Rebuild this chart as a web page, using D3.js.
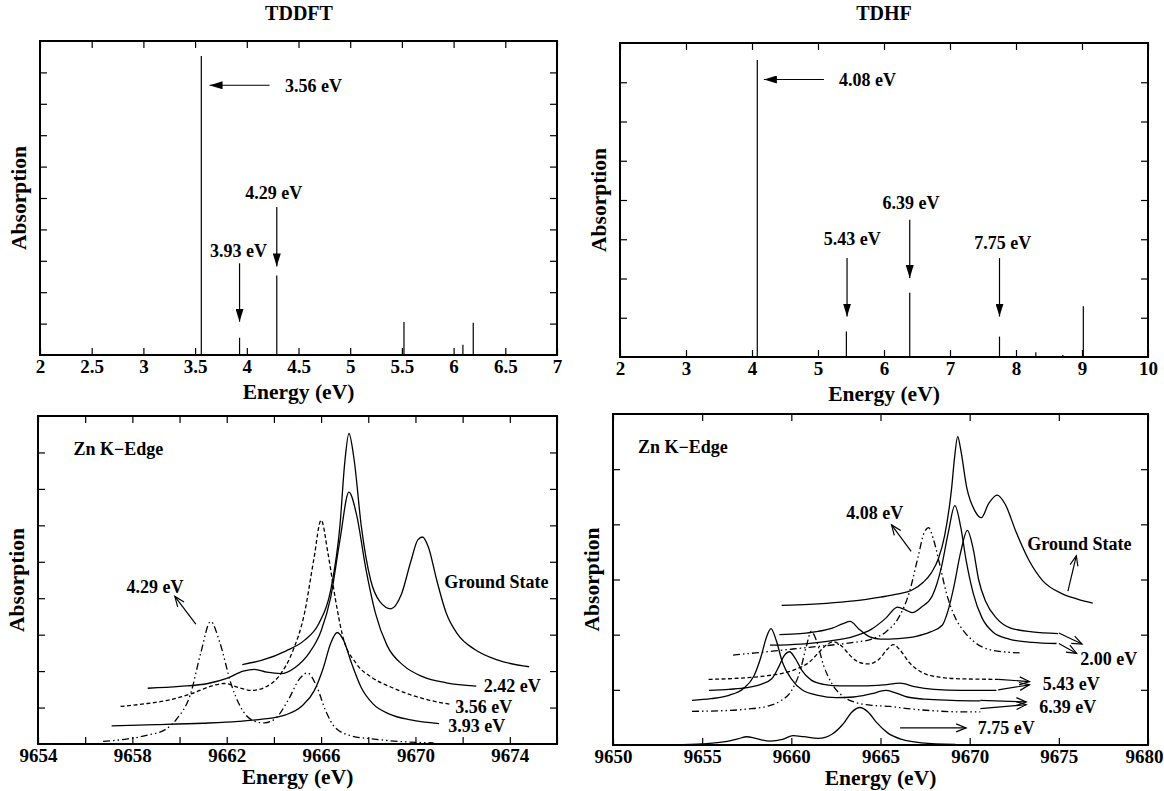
<!DOCTYPE html>
<html>
<head>
<meta charset="utf-8">
<script src="https://cdn.jsdelivr.net/npm/d3@7"></script>
<style>
  body { margin: 0; background: #fff; }
  text { font-family: "Liberation Serif", "Times New Roman", serif; font-weight: bold; fill: #000; }
</style>
</head>
<body>
<svg id="chart" width="1164" height="791"></svg>
<script>
// ---- stick spectra (top row) ----
var tddftEnergy = [3.56, 3.93, 4.29, 5.52, 6.09, 6.19];
var tddftIntensity = [9.52, 0.55, 2.53, 1.05, 0.33, 1.03];
var tdhfEnergy = [4.08, 5.43, 6.39, 7.75, 8.30, 8.71, 9.02];
var tdhfIntensity = [7.57, 0.65, 1.64, 0.52, 0.12, 0.05, 1.29];

var tddftTicks = [2, 2.5, 3, 3.5, 4, 4.5, 5, 5.5, 6, 6.5, 7];
var tdhfTicks = [2, 3, 4, 5, 6, 7, 8, 9, 10];
var kTicksLeft = [9654, 9656, 9658, 9660, 9662, 9664, 9666, 9668, 9670, 9672, 9674, 9676];
var kLabelsLeft = [9654, 9658, 9662, 9666, 9670, 9674];
var kTicksRight = [9650, 9655, 9660, 9665, 9670, 9675, 9680];

// ---- Zn K-edge spectra, TDDFT (bottom left) ----
var blGround = [[9662.66,2.18],[9663.5,2.3],[9664.5,2.55],[9665.3,2.85],[9665.9,3.3],[9666.4,4.2],[9666.8,6.0],[9667.0,7.7],[9667.18,8.52],[9667.4,7.8],[9667.7,6.0],[9668.1,4.5],[9668.5,3.9],[9668.96,3.71],[9669.4,4.1],[9669.8,5.0],[9670.1,5.6],[9670.3,5.68],[9670.55,5.4],[9670.9,4.5],[9671.3,3.6],[9671.8,3.0],[9672.5,2.6],[9673.5,2.3],[9674.82,2.12]];
var bl242 = [[9658.65,1.53],[9660.0,1.58],[9661.2,1.66],[9662.0,1.8],[9662.7,2.0],[9663.18,2.05],[9663.7,1.97],[9664.3,1.93],[9664.9,2.1],[9665.5,2.5],[9666.0,3.1],[9666.4,4.0],[9666.8,5.6],[9667.18,6.91],[9667.5,6.3],[9667.9,4.8],[9668.3,3.6],[9668.8,2.7],[9669.5,2.15],[9670.3,1.85],[9671.3,1.68],[9672.58,1.59]];
var bl356 = [[9657.5,1.03],[9658.5,1.1],[9659.5,1.2],[9660.5,1.38],[9661.3,1.58],[9661.9,1.66],[9662.5,1.55],[9663.05,1.47],[9663.6,1.55],[9664.2,1.85],[9664.8,2.55],[9665.3,3.6],[9665.7,5.1],[9666.0,6.14],[9666.3,5.2],[9666.6,4.0],[9666.9,3.0],[9667.5,2.2],[9668.17,1.82],[9669.0,1.55],[9669.8,1.35],[9670.6,1.2],[9671.48,1.09]];
var bl393 = [[9657.12,0.5],[9659.0,0.53],[9661.0,0.57],[9662.5,0.62],[9663.5,0.68],[9664.5,0.8],[9665.2,1.05],[9665.7,1.45],[9666.1,2.1],[9666.4,2.75],[9666.68,3.06],[9666.95,2.85],[9667.3,2.2],[9667.7,1.55],[9668.2,1.1],[9668.9,0.82],[9669.8,0.66],[9671.0,0.56]];
var bl429 = [[9656.76,0.07],[9657.8,0.14],[9658.7,0.25],[9659.35,0.38],[9659.9,0.7],[9660.46,1.36],[9660.9,2.5],[9661.32,3.36],[9661.7,2.8],[9662.19,1.64],[9662.6,1.0],[9663.13,0.64],[9663.6,0.58],[9664.1,0.72],[9664.6,1.2],[9665.1,1.8],[9665.42,1.95],[9665.8,1.6],[9666.2,0.9],[9666.6,0.45],[9667.3,0.22],[9668.17,0.14],[9669.3,0.07],[9670.77,0.03]];

// ---- Zn K-edge spectra, TDHF (bottom right) ----
var brGround = [[9659.46,2.53],[9661.0,2.55],[9662.8,2.59],[9664.0,2.63],[9665.0,2.68],[9666.0,2.74],[9666.72,2.8],[9667.4,2.95],[9667.85,3.12],[9668.25,3.38],[9668.6,3.8],[9668.99,4.66],[9669.15,5.2],[9669.33,5.59],[9669.5,5.35],[9669.84,4.66],[9670.3,4.24],[9670.65,4.12],[9671.07,4.38],[9671.54,4.53],[9672.0,4.36],[9672.58,3.88],[9673.34,3.34],[9674.09,2.98],[9675.2,2.74],[9676.0,2.65],[9676.9,2.57]];
var br200a = [[9658.8,1.81],[9660.5,1.83],[9662.0,1.88],[9663.5,1.97],[9664.5,2.1],[9665.3,2.3],[9665.95,2.5],[9666.4,2.45],[9666.77,2.4],[9667.3,2.5],[9667.9,2.7],[9668.4,3.2],[9668.8,3.85],[9669.17,4.34],[9669.5,3.95],[9669.8,3.35],[9670.2,2.75],[9670.7,2.3],[9671.3,2.05],[9672.2,1.92],[9673.5,1.86],[9674.87,1.84]];
var br200b = [[9659.33,2.0],[9660.5,2.02],[9661.5,2.06],[9662.3,2.12],[9662.9,2.2],[9663.29,2.24],[9663.8,2.1],[9664.4,1.96],[9665.0,1.92],[9666.0,1.93],[9667.0,1.97],[9667.8,2.05],[9668.46,2.17],[9668.8,2.45],[9669.1,2.85],[9669.5,3.5],[9669.87,3.89],[9670.2,3.55],[9670.5,3.0],[9670.9,2.6],[9671.5,2.3],[9672.3,2.12],[9673.5,2.05],[9674.96,2.02]];
var br408 = [[9656.73,1.63],[9658.0,1.67],[9659.5,1.72],[9661.0,1.77],[9662.5,1.82],[9663.5,1.86],[9664.5,1.92],[9665.3,2.05],[9666.0,2.3],[9666.6,2.75],[9667.1,3.4],[9667.45,3.85],[9667.7,3.94],[9667.95,3.75],[9668.3,3.3],[9668.7,2.75],[9669.13,2.35],[9669.7,2.05],[9670.18,1.89],[9671.23,1.72],[9672.8,1.67]];
var br543a = [[9655.36,1.19],[9657.0,1.21],[9658.5,1.25],[9659.5,1.3],[9660.3,1.38],[9661.0,1.5],[9661.6,1.7],[9662.0,1.82],[9662.35,1.87],[9662.8,1.8],[9663.3,1.62],[9663.8,1.5],[9664.3,1.47],[9664.9,1.55],[9665.4,1.74],[9665.73,1.82],[9666.1,1.72],[9666.6,1.5],[9667.3,1.32],[9668.3,1.23],[9669.5,1.2],[9671.6,1.19]];
var br543b = [[9655.38,0.99],[9656.5,1.01],[9657.5,1.04],[9658.3,1.1],[9658.9,1.2],[9659.3,1.42],[9659.6,1.62],[9659.9,1.69],[9660.2,1.58],[9660.6,1.35],[9661.1,1.18],[9661.8,1.1],[9662.8,1.07],[9664.0,1.07],[9665.2,1.09],[9666.1,1.12],[9666.9,1.06],[9668.0,1.01],[9669.5,0.99],[9671.5,0.99]];
var br639a = [[9654.43,0.81],[9655.5,0.84],[9656.5,0.9],[9657.3,1.02],[9657.9,1.25],[9658.3,1.6],[9658.6,1.95],[9658.86,2.11],[9659.15,1.9],[9659.5,1.5],[9660.0,1.2],[9660.6,1.0],[9661.5,0.9],[9662.5,0.86],[9663.5,0.87],[9664.5,0.93],[9665.3,0.99],[9665.8,0.95],[9666.5,0.87],[9667.5,0.83],[9669.0,0.81],[9670.6,0.8]];
var br639b = [[9654.43,0.61],[9656.0,0.62],[9657.5,0.65],[9658.6,0.7],[9659.4,0.8],[9660.0,0.98],[9660.5,1.35],[9660.85,1.8],[9661.12,2.06],[9661.4,1.9],[9661.8,1.45],[9662.3,1.1],[9662.9,0.88],[9663.6,0.77],[9664.5,0.72],[9665.5,0.7],[9666.5,0.66],[9668.0,0.62],[9669.5,0.6],[9670.6,0.6]];
var br775 = [[9653.4,0.0],[9655.0,0.02],[9656.3,0.06],[9657.0,0.11],[9657.5,0.15],[9658.0,0.12],[9658.8,0.07],[9659.5,0.1],[9660.1,0.17],[9660.7,0.15],[9661.5,0.12],[9662.3,0.2],[9662.9,0.38],[9663.4,0.6],[9663.85,0.68],[9664.3,0.6],[9664.8,0.4],[9665.4,0.22],[9666.2,0.1],[9667.3,0.04],[9669.2,0.01]];

var dashShort = "4,2.5";
var dashDotDot = "7,3,1.5,3,1.5,3";

var svg = d3.select("#chart");
var defs = svg.append("defs");

// filled head for the stick panels, open head for the K-edge panels
defs.append("marker").attr("id", "headFill")
  .attr("viewBox", "0 0 13 8").attr("refX", 13).attr("refY", 4)
  .attr("markerWidth", 13).attr("markerHeight", 8)
  .attr("markerUnits", "userSpaceOnUse").attr("orient", "auto")
  .append("path").attr("d", "M0,0L13,4L0,8Z").attr("fill", "#000");
defs.append("marker").attr("id", "headOpen")
  .attr("viewBox", "-1 -1 12 10").attr("refX", 10).attr("refY", 4)
  .attr("markerWidth", 12).attr("markerHeight", 10)
  .attr("markerUnits", "userSpaceOnUse").attr("orient", "auto")
  .style("overflow", "visible")
  .append("path").attr("d", "M0,0L10,4L0,8").attr("fill", "none")
  .attr("stroke", "#000").attr("stroke-width", 1.2);

// build one framed panel with inward ticks on all four sides
function panel(box, xDomain, yDomain, xTicks, xLabels, titleGap) {
  var g = svg.append("g");
  var x = d3.scaleLinear().domain(xDomain).range([box.l, box.r]);
  var y = d3.scaleLinear().domain(yDomain).range([box.b, box.t]);
  var yTicks = d3.range(1, yDomain[1]);
  var fmt = function(d) { return xLabels.indexOf(d) >= 0 ? d : ""; };

  g.append("g").attr("class", "xbottom").attr("transform", "translate(0," + box.b + ")")
    .call(d3.axisBottom(x).tickValues(xTicks).tickSizeInner(-7).tickSizeOuter(0).tickPadding(5).tickFormat(fmt));
  g.append("g").attr("transform", "translate(0," + box.t + ")")
    .call(d3.axisTop(x).tickValues(xTicks).tickSizeInner(-7).tickSizeOuter(0).tickFormat(""));
  g.append("g").attr("transform", "translate(" + box.l + ",0)")
    .call(d3.axisLeft(y).tickValues(yTicks).tickSizeInner(-7).tickSizeOuter(0).tickFormat(""));
  g.append("g").attr("transform", "translate(" + box.r + ",0)")
    .call(d3.axisRight(y).tickValues(yTicks).tickSizeInner(-7).tickSizeOuter(0).tickFormat(""));

  g.selectAll(".domain").remove();
  g.selectAll(".tick line").attr("stroke", "#000").attr("stroke-width", 1.2);
  g.selectAll(".tick text").style("font-family", "'Liberation Serif', serif")
    .style("font-weight", "bold").style("font-size", "19px");

  g.append("rect").attr("x", box.l).attr("y", box.t)
    .attr("width", box.r - box.l).attr("height", box.b - box.t)
    .attr("fill", "none").attr("stroke", "#000").attr("stroke-width", 2);

  // axis titles
  g.append("text").attr("x", (box.l + box.r) / 2).attr("y", box.b + titleGap)
    .attr("text-anchor", "middle").style("font-size", "21.5px").text("Energy (eV)");
  g.append("text")
    .attr("transform", "translate(" + (box.l - 14) + "," + ((box.t + box.b) / 2) + ") rotate(-90)")
    .attr("text-anchor", "middle").style("font-size", "21.5px").text("Absorption");
  return { g: g, x: x, y: y, box: box };
}

function sticks(p, energy, intensity) {
  p.g.append("g").selectAll("line").data(energy).enter().append("line")
    .attr("x1", function(d) { return p.x(d); })
    .attr("x2", function(d) { return p.x(d); })
    .attr("y1", p.y(0))
    .attr("y2", function(d, i) { return p.y(intensity[i]); })
    .attr("stroke", "#000").attr("stroke-width", 1.2);
}

function curve(p, data, dash) {
  var line = d3.line()
    .x(function(d) { return p.x(d[0]); })
    .y(function(d) { return p.y(d[1]); })
    .curve(d3.curveMonotoneX);
  p.g.append("path").datum(data)
    .attr("fill", "none").attr("stroke", "#000").attr("stroke-width", 1.3)
    .attr("stroke-dasharray", dash || null)
    .attr("d", line);
}

function arrow(p, from, to, head) {
  p.g.append("line")
    .attr("x1", p.x(from[0])).attr("y1", p.y(from[1]))
    .attr("x2", p.x(to[0])).attr("y2", p.y(to[1]))
    .attr("stroke", "#000").attr("stroke-width", 1.2)
    .attr("marker-end", "url(#" + head + ")");
}

function label(p, at, txt, anchor, size) {
  p.g.append("text").attr("x", p.x(at[0])).attr("y", p.y(at[1]))
    .attr("dy", "0.35em").attr("text-anchor", anchor || "middle")
    .style("font-size", (size || 18) + "px").text(txt);
}

// ---- top left: TDDFT ----
var tl = panel({ l: 40, r: 557, t: 41, b: 355 }, [2, 7], [0, 10], tddftTicks, tddftTicks, 44);
svg.append("text").attr("x", 299).attr("y", 20).attr("text-anchor", "middle").style("font-size", "20px").text("TDDFT");
sticks(tl, tddftEnergy, tddftIntensity);
arrow(tl, [4.22, 8.59], [3.64, 8.59], "headFill");
label(tl, [4.37, 8.59], "3.56 eV", "start");
arrow(tl, [4.29, 4.71], [4.29, 2.82], "headFill");
label(tl, [4.26, 5.16], "4.29 eV");
arrow(tl, [3.93, 2.92], [3.93, 1.06], "headFill");
label(tl, [3.92, 3.33], "3.93 eV");

// ---- top right: TDHF ----
var tr = panel({ l: 620, r: 1148, t: 43, b: 357 }, [2, 10], [0, 8], tdhfTicks, tdhfTicks, 44);
svg.append("text").attr("x", 884).attr("y", 20).attr("text-anchor", "middle").style("font-size", "20px").text("TDHF");
sticks(tr, tdhfEnergy, tdhfIntensity);
arrow(tr, [5.09, 7.07], [4.18, 7.07], "headFill");
label(tr, [5.32, 7.07], "4.08 eV", "start");
arrow(tr, [5.44, 2.52], [5.44, 1.03], "headFill");
label(tr, [5.52, 3.02], "5.43 eV");
arrow(tr, [6.39, 3.50], [6.39, 2.01], "headFill");
label(tr, [6.41, 3.92], "6.39 eV");
arrow(tr, [7.75, 2.52], [7.75, 1.03], "headFill");
label(tr, [7.80, 2.92], "7.75 eV");

// ---- bottom left: Zn K-edge from TDDFT states ----
var bl = panel({ l: 38, r: 557, t: 416, b: 744 }, [9654, 9676], [0, 9], kTicksLeft, kLabelsLeft, 40);
curve(bl, blGround);
curve(bl, bl242);
curve(bl, bl356, dashShort);
curve(bl, bl393);
curve(bl, bl429, dashDotDot);
label(bl, [9655.5, 8.09], "Zn K\u2212Edge", "start", 18);
label(bl, [9673.43, 4.45], "Ground State");
label(bl, [9674.1, 1.59], "2.42 eV");
label(bl, [9672.9, 1.02], "3.56 eV");
label(bl, [9672.6, 0.50], "3.93 eV");
label(bl, [9658.96, 4.32], "4.29 eV");
arrow(bl, [9660.69, 3.29], [9659.8, 4.05], "headOpen");

// ---- bottom right: Zn K-edge from TDHF states ----
var br = panel({ l: 613, r: 1148, t: 414, b: 745 }, [9650, 9680], [0, 6], kTicksRight, kTicksRight, 40);
// last tick label sits against the page edge
br.g.selectAll(".xbottom .tick text").filter(function(d) { return d === 9680; }).attr("dx", -4);
curve(br, brGround);
curve(br, br200a);
curve(br, br200b);
curve(br, br408, dashDotDot);
curve(br, br543a, dashShort);
curve(br, br543b);
curve(br, br639a);
curve(br, br639b, dashDotDot);
curve(br, br775);
label(br, [9651.4, 5.4], "Zn K\u2212Edge", "start", 18);
label(br, [9676.15, 3.65], "Ground State");
arrow(br, [9675.51, 2.79], [9675.98, 3.43], "headOpen");
label(br, [9664.68, 4.21], "4.08 eV");
arrow(br, [9666.72, 3.51], [9665.62, 3.99], "headOpen");
arrow(br, [9675.0, 2.03], [9676.3, 1.83], "headOpen");
arrow(br, [9675.0, 1.84], [9676.0, 1.66], "headOpen");
label(br, [9677.8, 1.56], "2.00 eV");
arrow(br, [9671.6, 1.19], [9673.35, 1.15], "headOpen");
arrow(br, [9671.6, 1.00], [9673.35, 1.09], "headOpen");
label(br, [9675.7, 1.11], "5.43 eV");
arrow(br, [9670.6, 0.81], [9673.17, 0.78], "headOpen");
arrow(br, [9670.6, 0.66], [9673.17, 0.73], "headOpen");
label(br, [9675.5, 0.69], "6.39 eV");
arrow(br, [9666.1, 0.31], [9669.8, 0.31], "headOpen");
label(br, [9672.05, 0.31], "7.75 eV");
</script>
</body>
</html>
